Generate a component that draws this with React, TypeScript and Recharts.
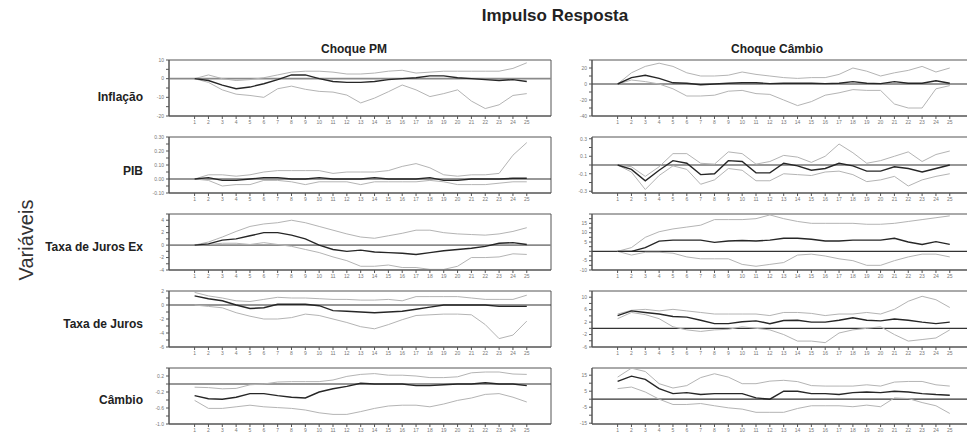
import React from "react";
import { LineChart, Line, XAxis, YAxis, ReferenceLine, ReferenceArea } from "recharts";

// ---------- data ----------
const periods = [1, 2, 3, 4, 5, 6, 7, 8, 9, 10, 11, 12, 13, 14, 15, 16, 17, 18, 19, 20, 21, 22, 23, 24, 25];

const rowLabels = ["Inflação", "PIB", "Taxa de Juros Ex", "Taxa de Juros", "Câmbio"];
const colLabels = ["Choque PM", "Choque Câmbio"];

// Inflação — Choque PM
const inflPmMid = [0, -1, -3.5, -5.4, -4.5, -2.7, -0.5, 2, 2, 0, -1.5, -2, -2, -1.5, -0.5, 0, 0.5, 1.5, 1.5, 0.5, 0, -0.5, -1, -0.5, -1.5];
const inflPmUp = [0, 2, 0, -1, -0.5, 0.5, 2, 3.5, 4, 4, 3.5, 2.5, 2.5, 3, 4, 4.5, 3, 3.5, 4, 4, 4, 4, 4, 5.5, 8.5];
const inflPmLo = [0, -2, -6, -8.3, -9, -10, -5.4, -4, -5.7, -6.8, -7.2, -8.8, -13, -10.4, -7, -3.4, -6, -9.6, -8, -6, -12, -16, -14, -9, -8];
// Inflação — Choque Câmbio
const inflCbMid = [0, 8, 11, 7, 1.5, 1, -1, 0, 1, 1.5, 1.5, 0.5, 1, 1, 1, 0.5, 1, 3, 1, 0.5, 3, 1, 1, 4, 1];
const inflCbUp = [0, 14, 22, 26, 22, 14, 10, 10, 11, 15, 12, 10, 8, 7, 8, 8, 12, 20, 16, 10, 14, 17, 22, 15, 20];
const inflCbLo = [0, 5, 3, 0, -6, -15, -15, -14, -9, -8, -12, -13, -20, -27, -22, -14, -11, -7, -8, -8, -25, -30, -30, -6, -2];

// PIB — Choque PM
const pibPmMid = [0, 0.01, -0.01, -0.01, 0, 0.01, 0.01, 0, 0, 0.01, 0, 0, 0, 0.01, 0, 0, 0, 0.01, -0.01, -0.01, 0, 0, 0, 0.005, 0.005];
const pibPmUp = [0, 0.03, 0.03, 0.02, 0.03, 0.05, 0.06, 0.06, 0.06, 0.06, 0.04, 0.05, 0.05, 0.05, 0.06, 0.09, 0.11, 0.08, 0.03, 0.02, 0.03, 0.03, 0.04, 0.17, 0.26];
const pibPmLo = [0, -0.01, -0.05, -0.04, -0.04, -0.01, -0.01, -0.02, -0.04, -0.02, -0.02, -0.02, -0.04, -0.02, -0.02, -0.02, -0.02, -0.01, -0.02, -0.04, -0.04, -0.04, -0.03, -0.02, -0.02];
// PIB — Choque Câmbio
const pibCbMid = [0, -0.05, -0.18, -0.06, 0.05, 0.02, -0.11, -0.1, 0.05, 0.04, -0.09, -0.09, 0.02, -0.01, -0.06, -0.04, 0.02, -0.01, -0.07, -0.07, -0.02, -0.04, -0.08, -0.04, 0];
const pibCbUp = [0, -0.02, -0.13, -0.02, 0.13, 0.13, 0.02, 0.01, 0.15, 0.13, 0.01, 0.04, 0.11, 0.09, 0.03, 0.1, 0.24, 0.14, 0.02, 0.05, 0.1, 0.15, 0.04, 0.12, 0.16];
const pibCbLo = [0, -0.08, -0.28, -0.12, -0.01, -0.05, -0.22, -0.17, -0.04, -0.06, -0.18, -0.18, -0.1, -0.11, -0.12, -0.08, -0.07, -0.11, -0.19, -0.17, -0.13, -0.24, -0.17, -0.13, -0.1];

// Taxa de Juros Ex — Choque PM
const jexPmMid = [0, 0.2, 0.8, 1, 1.5, 2, 2, 1.6, 1, 0, -0.7, -1, -0.8, -1.1, -1.2, -1.3, -1.5, -1.2, -0.9, -0.7, -0.5, -0.2, 0.3, 0.4, 0.1];
const jexPmUp = [0, 0.5, 1.3, 2.2, 3, 3.4, 3.6, 4, 3.6, 3, 2.4, 1.8, 1.3, 1.1, 1.5, 1.9, 2.4, 2.4, 2, 1.8, 1.7, 1.6, 1.8, 2.2, 2.8];
const jexPmLo = [0, 0.1, 0.3, 0.3, 0.1, 0.4, 0.1, -0.2, -0.7, -1.2, -1.9, -2.5, -3.4, -3.4, -3.2, -3.6, -3.6, -3.9, -3.9, -3.4, -2, -2, -1.9, -1.4, -1.5];
// Taxa de Juros Ex — Choque Câmbio
const jexCbMid = [0, 0, 2, 5.5, 6, 6, 6, 4.8, 5.5, 5.8, 5.5, 6, 7, 7, 6.5, 5.5, 5.5, 6, 6, 6, 7, 5, 3.7, 5.2, 3.7];
const jexCbUp = [0, 2, 7.5, 10.5, 12, 13, 14, 17, 17, 17, 17.5, 19.5, 17.5, 16, 15, 15, 15, 15, 14.5, 14.5, 15, 16, 17, 18, 19];
const jexCbLo = [0, -2, -0.5, -0.5, -1, -3, -4, -4, -4, -7, -8, -7, -6, -2, -1.5, -2.5, -4, -5, -7.5, -7.5, -5, -3, -1.5, -1.5, -3];

// Taxa de Juros — Choque PM
const jurPmMid = [1.3, 0.9, 0.6, 0, -0.5, -0.4, 0.1, 0.1, 0.1, -0.1, -0.8, -0.9, -1, -1.1, -1, -0.9, -0.6, -0.3, 0, 0, 0, 0, -0.2, -0.2, -0.2];
const jurPmUp = [1.8, 1.3, 1.0, 0.6, 0.5, 0.8, 1.1, 1.0, 1.0, 0.9, 0.8, 0.8, 0.7, 0.7, 0.8, 0.6, 1.2, 1.2, 1.2, 1.2, 1.0, 0.8, 0.8, 0.8, 1.4];
const jurPmLo = [0, -0.2, -0.4, -1.1, -1.6, -2, -2, -1.8, -1.3, -1.5, -2, -2.5, -3.1, -3.4, -2.8, -2.1, -1.5, -1.4, -1.3, -1.3, -1.4, -2.8, -4.8, -4.3, -2.3];
// Taxa de Juros — Choque Câmbio
const jurCbMid = [4.1, 5.6, 5.1, 4.6, 3.8, 3.6, 2.6, 1.5, 1.5, 2.1, 2.4, 1.5, 2.5, 2.6, 2, 2, 2.6, 3.4, 2.6, 2.4, 3, 2.6, 2, 1.5, 2];
const jurCbUp = [4.6, 5.8, 6.1, 5.6, 6.1, 5.6, 5.1, 4.6, 4.6, 4.6, 4.6, 4.1, 5.1, 5.1, 4.8, 4.1, 4.6, 4.6, 5.1, 4.6, 6.1, 8.7, 10.3, 9.2, 6.7];
const jurCbLo = [3.1, 5.1, 4.4, 3.1, 0.5, -0.5, -1, -0.5, -0.3, 0.5, 0, -0.5, -2, -4.1, -4.1, -4.6, -1.5, -0.5, 0, 0.5, -2, -4.1, -3.6, -3.1, -0.5];

// Câmbio — Choque PM
const cbPmMid = [-0.29, -0.37, -0.38, -0.33, -0.24, -0.24, -0.29, -0.33, -0.35, -0.2, -0.12, -0.06, 0.02, 0, 0, 0, -0.04, -0.04, -0.02, 0, 0, 0.03, 0, 0, -0.04];
const cbPmUp = [-0.08, -0.09, -0.12, -0.11, -0.02, 0, 0.05, 0.06, 0.06, 0.06, 0.1, 0.19, 0.24, 0.26, 0.22, 0.22, 0.2, 0.16, 0.16, 0.18, 0.28, 0.3, 0.3, 0.25, 0.24];
const cbPmLo = [-0.41, -0.61, -0.61, -0.57, -0.53, -0.57, -0.59, -0.61, -0.65, -0.72, -0.76, -0.76, -0.69, -0.61, -0.55, -0.53, -0.53, -0.57, -0.5, -0.41, -0.35, -0.26, -0.24, -0.33, -0.45];
// Câmbio — Choque Câmbio
const cbCbMid = [11.1, 14.4, 12.4, 6.6, 3.5, 4.1, 2.9, 3.5, 3.5, 3.5, 0.8, 0, 5, 5, 3.5, 3.5, 2.9, 4.1, 4.5, 4.1, 5, 4.5, 3.5, 2.9, 2.5];
const cbCbUp = [13.8, 19.4, 17.3, 9.7, 7, 8.5, 13.5, 15.9, 13.8, 9.7, 9.7, 11.3, 11.8, 11, 8.5, 8.2, 8.2, 8.2, 9, 8.2, 10.7, 11.1, 11.1, 9, 8.2];
const cbCbLo = [6.6, 7.6, 4.5, 0, -3.3, -3.3, -2.7, -4.1, -5.4, -6.2, -8.2, -8.2, -8.2, -5.8, -4.1, -4.1, -4.1, -4.7, -3.7, -4.7, 0.8, 0.4, -2.1, -4.1, -8.9];

// y-axis ticks (all ticks) and the labelled ones
const inflPmTicks = [-20, -15, -10, -5, 0, 5, 10];
const inflPmLabels = [10, 0, -10, -20];
const inflCbTicks = [-40, -30, -20, -10, 0, 10, 20, 30];
const inflCbLabels = [20, 0, -20, -40];
const pibPmTicks = [-0.1, -0.05, 0, 0.05, 0.1, 0.15, 0.2, 0.25, 0.3];
const pibPmLabels = [0.3, 0.2, 0.1, 0, -0.1];
const pibCbTicks = [-0.3, -0.2, -0.1, 0, 0.1, 0.2, 0.3];
const pibCbLabels = [0.3, 0.1, -0.1, -0.3];
const jexPmTicks = [-4, -3, -2, -1, 0, 1, 2, 3, 4, 5];
const jexPmLabels = [4, 2, 0, -2, -4];
const jexCbTicks = [-10, -7.5, -5, -2.5, 0, 2.5, 5, 7.5, 10, 12.5, 15, 17.5, 20];
const jexCbLabels = [15, 10, 5, -5, -10];
const jurPmTicks = [-6, -5, -4, -3, -2, -1, 0, 1, 2];
const jurPmLabels = [2, 0, -2, -4, -6];
const jurCbTicks = [-6, -4, -2, 0, 2, 4, 6, 8, 10, 12];
const jurCbLabels = [10, 6, 2, -2, -6];
const cbPmTicks = [-1, -0.8, -0.6, -0.4, -0.2, 0, 0.2, 0.4];
const cbPmLabels = [0.2, -0.2, -0.6, -1];
const cbCbTicks = [-15, -10, -5, 0, 5, 10, 15];
const cbCbLabels = [15, 5, -5, -15];

// ---------- layout ----------
const YW = 30;
const PW = 382;
const PH = 56;
const MT = 2;
const MR = 2;
const XH = 14;
const X_DOMAIN: [number, number] = [-0.85, 26.75];
const COL_LEFT = [169, 592];
const ROW_TOP = [60, 136.5, 213.5, 290.5, 368];
const FONT = "'Liberation Sans', Arial, Helvetica, sans-serif";
const AXIS = "#555";

type PanelProps = {
  left: number;
  top: number;
  mid: number[];
  up: number[];
  lo: number[];
  domain: [number, number];
  ticks: number[];
  labels: number[];
  decimals: number;
  zeroColor: string;
  zeroWidth: number;
};

function Panel({ left, top, mid, up, lo, domain, ticks, labels, decimals, zeroColor, zeroWidth }: PanelProps) {
  const data = periods.map((p, i) => ({ p, mid: mid[i], up: up[i], lo: lo[i] }));
  const fmt = (v: number) =>
    labels.some((l) => Math.abs(l - v) < 1e-9) ? v.toFixed(decimals) : "";
  return (
    <div style={{ position: "absolute", left: left - YW, top: top - MT }}>
      <LineChart
        width={YW + PW + MR}
        height={MT + PH + XH}
        data={data}
        margin={{ top: MT, right: MR, bottom: 0, left: 0 }}
      >
        <XAxis
          dataKey="p"
          type="number"
          domain={X_DOMAIN}
          ticks={periods}
          interval={0}
          allowDataOverflow
          height={XH}
          tickSize={3}
          tickMargin={1}
          stroke={AXIS}
          tick={{ fontSize: 5, fill: "#777", fontFamily: FONT }}
        />
        <YAxis
          type="number"
          domain={domain}
          ticks={ticks}
          interval={0}
          allowDataOverflow
          width={YW}
          tickSize={3}
          tickMargin={2}
          stroke={AXIS}
          tickFormatter={fmt}
          tick={{ fontSize: 5, fill: "#777", fontFamily: FONT }}
        />
        <ReferenceArea
          x1={X_DOMAIN[0]}
          x2={X_DOMAIN[1]}
          y1={domain[0]}
          y2={domain[1]}
          fill="none"
          stroke={AXIS}
          strokeWidth={1}
          ifOverflow="visible"
        />
        <ReferenceLine y={0} stroke={zeroColor} strokeWidth={zeroWidth} />
        <Line type="linear" dataKey="up" stroke="#b4b4b4" strokeWidth={1} dot={false} isAnimationActive={false} />
        <Line type="linear" dataKey="lo" stroke="#b4b4b4" strokeWidth={1} dot={false} isAnimationActive={false} />
        <Line type="linear" dataKey="mid" stroke="#262626" strokeWidth={1.4} dot={false} isAnimationActive={false} />
      </LineChart>
    </div>
  );
}

const panels: PanelProps[] = [
  { left: COL_LEFT[0], top: ROW_TOP[0], mid: inflPmMid, up: inflPmUp, lo: inflPmLo, domain: [-20, 10], ticks: inflPmTicks, labels: inflPmLabels, decimals: 0, zeroColor: "#8a8a8a", zeroWidth: 1.6 },
  { left: COL_LEFT[1], top: ROW_TOP[0], mid: inflCbMid, up: inflCbUp, lo: inflCbLo, domain: [-40, 30], ticks: inflCbTicks, labels: inflCbLabels, decimals: 0, zeroColor: "#333", zeroWidth: 1.2 },
  { left: COL_LEFT[0], top: ROW_TOP[1], mid: pibPmMid, up: pibPmUp, lo: pibPmLo, domain: [-0.1, 0.3], ticks: pibPmTicks, labels: pibPmLabels, decimals: 2, zeroColor: "#333", zeroWidth: 1.2 },
  { left: COL_LEFT[1], top: ROW_TOP[1], mid: pibCbMid, up: pibCbUp, lo: pibCbLo, domain: [-0.32, 0.32], ticks: pibCbTicks, labels: pibCbLabels, decimals: 1, zeroColor: "#333", zeroWidth: 1.2 },
  { left: COL_LEFT[0], top: ROW_TOP[2], mid: jexPmMid, up: jexPmUp, lo: jexPmLo, domain: [-4, 5], ticks: jexPmTicks, labels: jexPmLabels, decimals: 0, zeroColor: "#8a8a8a", zeroWidth: 1.6 },
  { left: COL_LEFT[1], top: ROW_TOP[2], mid: jexCbMid, up: jexCbUp, lo: jexCbLo, domain: [-10, 20], ticks: jexCbTicks, labels: jexCbLabels, decimals: 0, zeroColor: "#333", zeroWidth: 1.2 },
  { left: COL_LEFT[0], top: ROW_TOP[3], mid: jurPmMid, up: jurPmUp, lo: jurPmLo, domain: [-6, 2], ticks: jurPmTicks, labels: jurPmLabels, decimals: 0, zeroColor: "#333", zeroWidth: 1.2 },
  { left: COL_LEFT[1], top: ROW_TOP[3], mid: jurCbMid, up: jurCbUp, lo: jurCbLo, domain: [-6, 12], ticks: jurCbTicks, labels: jurCbLabels, decimals: 0, zeroColor: "#333", zeroWidth: 1.2 },
  { left: COL_LEFT[0], top: ROW_TOP[4], mid: cbPmMid, up: cbPmUp, lo: cbPmLo, domain: [-1, 0.4], ticks: cbPmTicks, labels: cbPmLabels, decimals: 1, zeroColor: "#333", zeroWidth: 1.2 },
  { left: COL_LEFT[1], top: ROW_TOP[4], mid: cbCbMid, up: cbCbUp, lo: cbCbLo, domain: [-15.5, 19.5], ticks: cbCbTicks, labels: cbCbLabels, decimals: 0, zeroColor: "#333", zeroWidth: 1.2 },
];

const ROW_LABEL_Y = [101, 175, 251, 328, 404];
const COL_LABEL_X = [354, 777];

export default function App() {
  return (
    <div
      style={{
        position: "fixed",
        left: 0,
        top: 0,
        width: 967,
        height: 434,
        overflow: "hidden",
        background: "#fff",
        fontFamily: FONT,
      }}
    >
      {panels.map((p, i) => (
        <Panel key={i} {...p} />
      ))}
      <svg
        width={967}
        height={434}
        style={{ position: "absolute", left: 0, top: 0, pointerEvents: "none" }}
      >
        <text x={555} y={21} textAnchor="middle" fontSize={17} fontWeight="bold" fill="#222" fontFamily={FONT}>
          Impulso Resposta
        </text>
        {colLabels.map((c, i) => (
          <text key={c} x={COL_LABEL_X[i]} y={53} textAnchor="middle" fontSize={12} fontWeight="bold" fill="#222" fontFamily={FONT}>
            {c}
          </text>
        ))}
        {rowLabels.map((r, i) => (
          <text key={r} x={143} y={ROW_LABEL_Y[i]} textAnchor="end" fontSize={12} fontWeight="bold" fill="#222" fontFamily={FONT}>
            {r}
          </text>
        ))}
        <text
          x={33}
          y={240}
          textAnchor="middle"
          fontSize={20}
          fill="#333"
          fontFamily={FONT}
          transform="rotate(-90, 33, 240)"
        >
          Variáveis
        </text>
      </svg>
    </div>
  );
}
